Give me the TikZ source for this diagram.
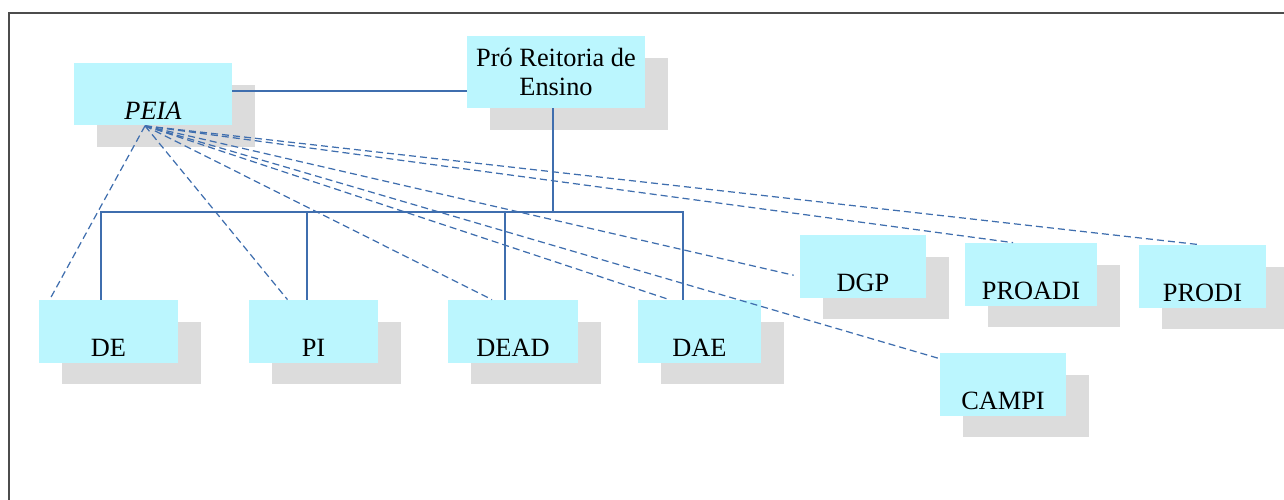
\documentclass[tikz,border=0pt]{standalone}
\usepackage{fontspec}
\setmainfont{Liberation Serif}
\usepackage{xcolor}
\usetikzlibrary{calc,shadows}
\definecolor{boxcyan}{HTML}{BBF6FE}
\definecolor{shadegray}{HTML}{DCDCDC}
\definecolor{linkblue}{HTML}{3F6EAE}
\tikzset{
  unit/.style={fill=boxcyan, inner xsep=0pt, inner ysep=0pt, anchor=base,
    text height=1.12cm, text depth=0.13cm, font=\fontsize{15}{17}\selectfont,
    general shadow={fill=shadegray, shadow xshift=0.46cm, shadow yshift=-0.44cm}},
  orgline/.style={draw=linkblue, line width=0.75pt},
  dashline/.style={draw=linkblue, line width=0.7pt, dash pattern=on 4pt off 2.3pt}
}
\begin{document}
\begin{tikzpicture}[x=0.02cm,y=-0.02cm]
\useasboundingbox (0,0) rectangle (1284,500);
\draw [line width=1.1pt, black!70] (9,13) rectangle (1320,540);
% boxes
\node [unit, minimum width=3.16cm] (peia) at (153,119) {\textit{PEIA}};
\node [unit, anchor=center, text height=, text depth=, align=center, minimum width=3.56cm, minimum height=1.44cm] (pro) at (556,72) {Pró Reitoria de\\Ensino};
\node [unit, minimum width=2.78cm] (de) at (108.5,356) {DE};
\node [unit, minimum width=2.58cm] (pi) at (313.5,356) {PI};
\node [unit, minimum width=2.6cm] (dead) at (513,356) {DEAD};
\node [unit, minimum width=2.46cm] (dae) at (699.5,356) {DAE};
\node [unit, minimum width=2.52cm] (dgp) at (863,291) {DGP};
\node [unit, minimum width=2.64cm] (proadi) at (1031,299) {PROADI};
\node [unit, minimum width=2.54cm] (prodi) at (1202.5,301) {PRODI};
\node [unit, minimum width=2.52cm] (campi) at (1003,409) {CAMPI};
% solid links
\coordinate (bus) at (553,212);
\coordinate (peiaR) at ($(peia.east)+(0,-3.25)$);
\coordinate (proB) at ($(pro.south)+(-3,0)$);
\coordinate (deT) at ($(de.north)+(-7.5,0)$);
\coordinate (piT) at ($(pi.north)+(-6.5,0)$);
\coordinate (deadT) at ($(dead.north)+(-8,0)$);
\coordinate (daeT) at ($(dae.north)+(-16.5,0)$);
\draw [orgline] (peiaR) -- (peiaR -| pro.west);
\draw [orgline] (proB) -- (bus);
\draw [orgline] (deT) -- (deT |- bus) -- (daeT |- bus) -- (daeT);
\draw [orgline] (piT) -- (piT |- bus);
\draw [orgline] (deadT) -- (deadT |- bus);
% dashed links
\coordinate (hub) at ($(peia.south)+(-8,0)$);
\draw [dashline] (hub) -- ($(de.north west)+(11,0)$);
\draw [dashline] (hub) -- ($(pi.north)+(-26,0)$);
\draw [dashline] (hub) -- ($(dead.north)+(-21,0)$);
\draw [dashline] (hub) -- ($(dae.north)+(-30,0)$);
\draw [dashline] (hub) -- ($(dgp.west)+(-6,9)$);
\draw [dashline] (hub) -- ($(proadi.north)+(-18,0)$);
\draw [dashline] (hub) -- ($(prodi.north)+(-3,0)$);
\draw [dashline] (hub) -- ($(campi.north west)+(0,6)$);
\end{tikzpicture}
\end{document}
